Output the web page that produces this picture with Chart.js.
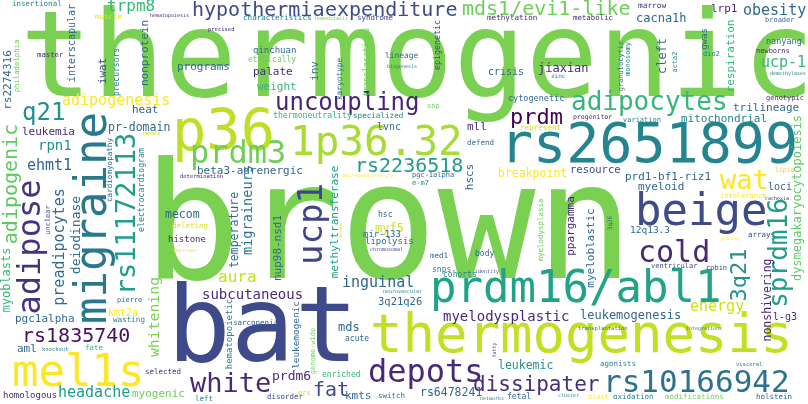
<!DOCTYPE html>
<html>
<head>
<meta charset="utf-8">
<script src="https://cdn.jsdelivr.net/npm/chart.js@4.4.1/dist/chart.umd.min.js"></script>
<style>
  html, body { margin: 0; padding: 0; background: #fff; }
  #wrap { width: 808px; height: 404px; }
</style>
</head>
<body>
<div id="wrap"><canvas id="cloud" width="808" height="404"></canvas></div>
<script>
// word cloud placement: [word, left x, baseline y, font px, colour]
const flatWords = [
  ["thermogenic", 20, 96, 120, "#7ad151"],
  ["brown", 143, 278, 163, "#7ad151"],
  ["bat", 167, 361, 106, "#3e4a89"],
  ["thermogenesis", 370, 352, 54, "#c2df23"],
  ["rs10166942", 603, 392, 31, "#2c728e"],
  ["p36", 172, 150, 57, "#bddf26"],
  ["1p36.32", 290, 155, 41, "#a8db34"],
  ["rs2651899", 500, 162, 55, "#25858e"],
  ["prdm16/abl1", 430, 302, 44, "#20a386"],
  ["mel1s", 12, 386, 44, "#fde725"],
  ["adipocytes", 571, 110, 26, "#35b779"],
  ["uncoupling", 275, 110, 24, "#482475"],
  ["prdm3", 190, 163, 32, "#6ece58"],
  ["hypothermia", 192, 16, 20, "#3e4a89"],
  ["expenditure", 325, 16, 20, "#3e4a89"],
  ["mds1/evi1-like", 462, 15, 20, "#6ece58"],
  ["beige", 635, 225, 44, "#3e4a89"],
  ["cold", 638, 262, 30, "#482878"],
  ["wat", 720, 189, 27, "#fde725"],
  ["depots", 368, 382, 32, "#482878"],
  ["dissipater", 473, 391, 21, "#472d7b"],
  ["rs1835740", 22, 342, 20, "#471063"],
  ["white", 190, 392, 27, "#482878"],
  ["q21", 22, 120, 24, "#21918c"],
  ["rs2236518", 355, 172, 20, "#1f9e89"],
  ["adipogenesis", 62, 105, 15, "#fde725"],
  ["trpm8", 107, 11, 16, "#35b779"],
  ["obesity", 743, 15, 15, "#31688e"],
  ["ucp-1", 761, 67, 15, "#35b779"],
  ["headache", 58, 397, 15, "#1f9e89"],
  ["inguinal", 342, 287, 15, "#31688e"],
  ["aura", 218, 282, 16, "#c8e020"],
  ["energy", 690, 311, 15, "#d0e11c"],
  ["subcutaneous", 202, 299, 14, "#482878"],
  ["myelodysplastic", 443, 321, 14, "#482878"],
  ["leukemogenesis", 580, 319, 12, "#31688e"],
  ["fat", 313, 396, 20, "#3e4a89"],
  ["rpn1", 38, 150, 14, "#21918c"],
  ["ehmt1", 27, 170, 15, "#31688e"],
  ["prdm", 510, 124, 22, "#440154"],
  ["jiaxian", 538, 72, 12, "#482878"],
  ["cacna1h", 636, 22, 12, "#31688e"],
  ["lrp1", 711, 12, 11, "#482878"],
  ["programs", 177, 70, 11, "#31688e"],
  ["palate", 253, 75, 11, "#482878"],
  ["weight", 257, 90, 11, "#35b779"],
  ["qinchuan", 253, 53, 9, "#31688e"],
  ["ethnically", 248, 62, 8, "#6ece58"],
  ["heat", 132, 113, 11, "#31688e"],
  ["leukemia", 22, 135, 11, "#482878"],
  ["pr-domain", 108, 131, 11.5, "#31688e"],
  ["trilineage", 733, 111, 11, "#31688e"],
  ["mitochondrial", 681, 122, 11, "#26828e"],
  ["cytogenetic", 508, 101, 8.5, "#31688e"],
  ["crisis", 488, 75, 10, "#31688e"],
  ["lvnc", 377, 130, 10, "#31688e"],
  ["mll", 467, 130, 11, "#482878"],
  ["beta3-adrenergic", 197, 174, 11, "#31688e"],
  ["mecom", 165, 218, 11.5, "#31688e"],
  ["histone", 168, 242, 9, "#482878"],
  ["deleting", 172, 228, 7.5, "#d8e219"],
  ["resource", 570, 173, 10.5, "#3e4a89"],
  ["prd1-bf1-riz1", 625, 180, 11, "#31688e"],
  ["myeloid", 638, 190, 11, "#31688e"],
  ["loci", 768, 190, 10, "#31688e"],
  ["breakpoint", 498, 177, 11.5, "#fde725"],
  ["12q13.3", 630, 233, 9.5, "#31688e"],
  ["pgc1alpha", 15, 322, 11, "#31688e"],
  ["kmt2a", 108, 316, 10, "#fde725"],
  ["aml", 17, 352, 11, "#31688e"],
  ["myogenic", 132, 397, 11, "#6ece58"],
  ["3q21q26", 378, 305, 10.5, "#31688e"],
  ["mds", 338, 331, 12, "#31688e"],
  ["prdm6", 272, 380, 13, "#482878"],
  ["kmts", 345, 399, 11, "#31688e"],
  ["rs6478241", 420, 396, 11.5, "#31688e"],
  ["leukemic", 498, 369, 11.5, "#21918c"],
  ["l-g3", 773, 320, 10, "#482878"],
  ["hsc", 378, 217, 8, "#31688e"],
  ["myf5", 375, 232, 12, "#d8e219"],
  ["mir-133", 363, 237, 9, "#31688e"],
  ["lipolysis", 365, 244, 9, "#31688e"],
  ["pgc-1alpha", 412, 177, 7, "#31688e"],
  ["e-m7", 412, 185, 7, "#26828e"],
  ["defend", 467, 145, 7.5, "#31688e"],
  ["med1", 430, 258, 7.5, "#31688e"],
  ["body", 475, 256, 8, "#31688e"],
  ["snps", 432, 272, 8, "#26828e"],
  ["cohorts", 443, 277, 8, "#26828e"],
  ["acute", 345, 341, 8, "#31688e"],
  ["enriched", 322, 377, 8, "#35b779"],
  ["switch", 378, 398, 7.5, "#31688e"],
  ["fetal", 507, 399, 8, "#31688e"],
  ["holstein", 756, 399, 7.5, "#31688e"],
  ["modifications", 665, 399, 7.5, "#6ece58"],
  ["oxidation", 613, 399, 7.5, "#26828e"],
  ["blast", 588, 399, 7, "#fde725"],
  ["agonists", 600, 366, 7.5, "#26828e"],
  ["ventricular", 651, 268, 7, "#3e4a89"],
  ["robin", 706, 270, 7, "#3e4a89"],
  ["arrays", 748, 237, 7.5, "#3e4a89"],
  ["nanyang", 766, 44, 8.5, "#31688e"],
  ["newborns", 756, 53, 7, "#482878"],
  ["genotypic", 766, 100, 7, "#482878"],
  ["variation", 623, 122, 7, "#26828e"],
  ["progenitor", 573, 119, 6.5, "#482878"],
  ["metabolic", 573, 20, 7.4, "#482878"],
  ["methylation", 487, 20, 7.6, "#482878"],
  ["syndrome", 357, 20, 7.5, "#3e4a89"],
  ["characteristics", 243, 20, 7.6, "#26828e"],
  ["marrow", 638, 8, 7.8, "#482878"],
  ["broader", 765, 22, 7, "#31688e"],
  ["master", 37, 57, 7.3, "#482878"],
  ["insertional", 12, 6, 7.5, "#26828e"],
  ["muscle", 95, 19, 7.5, "#d8e219"],
  ["lineage", 385, 58, 7.9, "#31688e"],
  ["thermoneutrality", 273, 118, 8.2, "#35b779"],
  ["specialized", 353, 118, 7.6, "#26828e"],
  ["snp", 427, 108, 7, "#6ece58"],
  ["represent", 520, 130, 7.6, "#d8e219"],
  ["dio2", 703, 56, 7, "#26828e"],
  ["wasting", 113, 322, 7.6, "#26828e"],
  ["pierre", 117, 302, 7, "#31688e"],
  ["fate", 85, 350, 7.5, "#35b779"],
  ["selected", 145, 374, 7.5, "#482878"],
  ["homologous", 3, 398, 9, "#482878"],
  ["left", 195, 401, 7.5, "#26828e"],
  ["disorder", 267, 399, 7.5, "#3e4a89"],
  ["sarcopenia", 233, 325, 7.5, "#31688e"],
  ["knockout", 42, 351, 5.5, "#26828e"],
  ["renew", 142, 135, 6, "#d8e219"],
  ["zinc", 551, 78, 6, "#26828e"],
  ["hematopoiesis", 150, 17, 5, "#482878"],
  ["homeostasis", 315, 20, 5, "#6ece58"],
  ["precised", 208, 31, 5.5, "#482878"],
  ["biogenesis", 387, 68, 5, "#26828e"],
  ["determination", 180, 178, 5.5, "#482878"],
  ["improves", 173, 252, 5, "#fde725"],
  ["mscv-hoxb4-ires-yfp", 342, 177, 4.5, "#fde725"],
  ["chromosomal", 370, 251, 5, "#3e4a89"],
  ["demethylases", 770, 75, 5, "#26828e"],
  ["lipid", 775, 172, 6.5, "#d8e219"],
  ["intolerance", 720, 198, 7, "#fde725"],
  ["cachexia", 765, 200, 5, "#482878"],
  ["glucose", 721, 240, 4.5, "#fde725"],
  ["transplantation", 578, 330, 5.5, "#26828e"],
  ["integrations", 686, 330, 5, "#26828e"],
  ["visceral", 736, 366, 5.5, "#26828e"],
  ["cluster", 558, 397, 5, "#26828e"],
  ["networks", 480, 400, 5, "#26828e"],
  ["identity", 475, 273, 5, "#3e4a89"],
  ["neurovascular", 383, 293, 5, "#26828e"],
  ["qrs", 298, 395, 7, "#d8e219"]
];

// vertical words (read bottom to top): [word, centre x, centre y, font px, colour]
const uprightWords = [
  ["migraine", 95, 218, 44, "#2a788e"],
  ["adipose", 32, 247, 32, "#46337e"],
  ["rs11172113", 128, 214, 27, "#1f9e89"],
  ["ucp1", 313, 224, 34, "#414487"],
  ["adipogenic", 12, 184, 20, "#5ec962"],
  ["sprdm16", 780, 253, 26, "#1f9e89"],
  ["3q21", 740, 275, 22, "#21918c"],
  ["interscapular", 72, 43, 10, "#31688e"],
  ["rs2274316", 8, 80, 11, "#31688e"],
  ["philadelphia", 17, 66, 7.3, "#6ece58"],
  ["nonprotein", 145, 53, 11, "#31688e"],
  ["precursors", 117, 72, 8, "#26828e"],
  ["iwat", 103, 71, 11, "#3e4a89"],
  ["inv", 315, 71, 11, "#26828e"],
  ["karyotype", 340, 79, 7.8, "#31688e"],
  ["translocations", 367, 62, 8.2, "#6ece58"],
  ["epigenetic", 438, 45, 8.3, "#3e4a89"],
  ["cleft", 663, 56, 12, "#31688e"],
  ["gwas", 705, 39, 9, "#31688e"],
  ["respiration", 731, 56, 11, "#35b779"],
  ["granulocytic", 621, 66, 7, "#31688e"],
  ["monosomy", 628, 59, 7, "#26828e"],
  ["acta2", 675, 62, 7, "#26828e"],
  ["preadipocytes", 60, 247, 15, "#31688e"],
  ["myoblasts", 7, 280, 12, "#35b779"],
  ["deiodinase", 77, 235, 13, "#31688e"],
  ["cardiomyopathy", 110, 170, 7.6, "#31688e"],
  ["electrocardiogram", 142, 190, 8.2, "#26828e"],
  ["unclear", 48, 220, 7, "#3e4a89"],
  ["temperature", 235, 230, 11.5, "#31688e"],
  ["migraineurs", 248, 210, 13.6, "#2a788e"],
  ["nup98-nsd1", 278, 248, 11, "#31688e"],
  ["methyltransferase", 335, 222, 11, "#1f9e89"],
  ["hscs", 470, 177, 11, "#31688e"],
  ["myelodysplasia", 541, 230, 7.5, "#6ece58"],
  ["ppargamma", 571, 226, 11, "#482878"],
  ["myeloblastic", 591, 248, 11, "#31688e"],
  ["3q26", 610, 223, 6, "#31688e"],
  ["nonshivering", 768, 300, 11.5, "#482878"],
  ["dysmegakaryocytopoiesis", 798, 198, 12, "#5ec962"],
  ["whitening", 155, 317, 14.8, "#7ad151"],
  ["hematopoietic", 230, 334, 9, "#26828e"],
  ["leukemogenic", 297, 335, 9.4, "#31688e"],
  ["genome-wide", 313, 351, 7, "#6ece58"],
  ["fatty", 495, 350, 5, "#3e4a89"],
  ["breeds", 341, 230, 4, "#d8e219"]
];

const FONT = '"DejaVu Sans Mono", monospace';

// draws each word at the pixel position Chart.js gives its point
const wordPlugin = {
  id: "words",
  afterDatasetsDraw(chart) {
    const ctx = chart.ctx;
    [flatWords, uprightWords].forEach((rows, di) => {
      const meta = chart.getDatasetMeta(di);
      rows.forEach((row, i) => {
        const pt = meta.data[i];
        ctx.save();
        ctx.fillStyle = row[4];
        ctx.font = row[3] + "px " + FONT;
        ctx.translate(pt.x, pt.y);
        if (di === 0) {
          ctx.textAlign = "left";
          ctx.textBaseline = "alphabetic";
        } else {
          ctx.rotate(-Math.PI / 2);
          ctx.textAlign = "center";
          ctx.textBaseline = "middle";
        }
        ctx.fillText(row[0], 0, 0);
        ctx.restore();
      });
    });
  }
};

const toPoints = rows => rows.map(r => ({ x: r[1], y: r[2] }));

new Chart(document.getElementById("cloud"), {
  type: "scatter",
  data: {
    datasets: [
      { data: toPoints(flatWords), pointRadius: 0, pointHoverRadius: 0 },
      { data: toPoints(uprightWords), pointRadius: 0, pointHoverRadius: 0 }
    ]
  },
  options: {
    responsive: false,
    animation: false,
    layout: { padding: 0 },
    plugins: { legend: { display: false }, tooltip: { enabled: false } },
    scales: {
      x: { type: "linear", min: 0, max: 808, display: false },
      y: { type: "linear", min: 0, max: 404, reverse: true, display: false }
    }
  },
  plugins: [wordPlugin]
});
</script>
</body>
</html>
